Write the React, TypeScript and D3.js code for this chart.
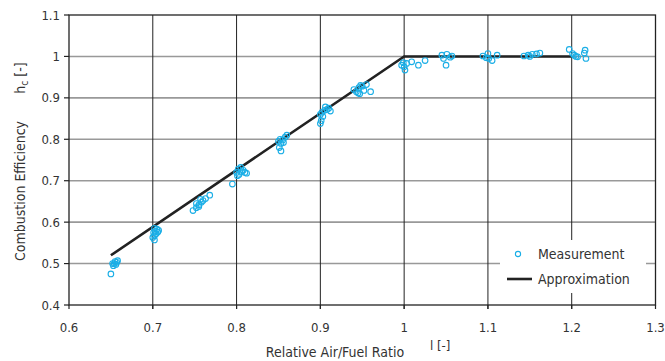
import React from 'react';
import * as d3 from 'd3';

// measured points [lambda, efficiency]
const measX = [
  0.652, 0.655, 0.656, 0.653, 0.657, 0.650, 0.654, 0.658,
  0.702, 0.705, 0.707, 0.703, 0.701, 0.704, 0.702, 0.700, 0.702, 0.706,
  0.748, 0.752, 0.755, 0.758, 0.752, 0.760, 0.763, 0.768, 0.755, 0.757,
  0.795,
  0.800, 0.802, 0.805, 0.808, 0.810, 0.803, 0.806, 0.812, 0.801,
  0.850, 0.852, 0.855, 0.858, 0.860, 0.853, 0.851, 0.853, 0.856,
  0.900, 0.902, 0.905, 0.908, 0.910, 0.903, 0.901, 0.900, 0.912, 0.906,
  0.940, 0.943, 0.946, 0.948, 0.950, 0.952, 0.955, 0.947, 0.960, 0.945,
  0.997, 1.001, 1.009, 1.017, 1.025, 1.003, 1.000, 0.999,
  1.045, 1.051, 1.057, 1.047, 1.050, 1.055,
  1.094, 1.100, 1.098, 1.105, 1.111, 1.101,
  1.143, 1.148, 1.153, 1.158, 1.162, 1.150,
  1.197, 1.201, 1.203, 1.207, 1.216, 1.215, 1.217, 1.205,
];
const measY = [
  0.500, 0.505, 0.498, 0.495, 0.503, 0.475, 0.500, 0.507,
  0.585, 0.583, 0.580, 0.578, 0.575, 0.572, 0.567, 0.563, 0.557, 0.576,
  0.628, 0.635, 0.642, 0.648, 0.645, 0.652, 0.657, 0.665, 0.638, 0.655,
  0.692,
  0.720, 0.728, 0.732, 0.725, 0.720, 0.715, 0.722, 0.718, 0.712,
  0.795, 0.800, 0.798, 0.805, 0.810, 0.790, 0.780, 0.772, 0.792,
  0.860, 0.865, 0.870, 0.872, 0.875, 0.855, 0.845, 0.838, 0.868, 0.878,
  0.920, 0.915, 0.925, 0.930, 0.928, 0.918, 0.932, 0.910, 0.915, 0.912,
  0.979, 0.967, 0.987, 0.979, 0.990, 0.983, 0.975, 0.985,
  1.003, 1.005, 1.001, 0.995, 0.979, 0.998,
  1.001, 1.007, 0.997, 0.990, 1.003, 0.995,
  1.001, 1.003, 1.005, 1.006, 1.008, 1.000,
  1.017, 1.007, 1.003, 0.999, 1.015, 1.008, 0.995, 1.000,
];

// approximation polyline
const approxX = [0.65, 1.0, 1.2];
const approxY = [0.52, 1.0, 1.0];

const xTicks = [0.6, 0.7, 0.8, 0.9, 1, 1.1, 1.2, 1.3];
const yTicks = [0.4, 0.5, 0.6, 0.7, 0.8, 0.9, 1, 1.1];

const W = 665;
const H = 361;
const font = "'Liberation Sans Narrow', 'DejaVu Sans Condensed', sans-serif";
const blue = '#1aaee6';

export default function App() {
  const x = d3.scaleLinear().domain([0.6, 1.3]).range([69, 655.5]);
  const y = d3.scaleLinear().domain([0.4, 1.1]).range([305, 15]);

  const pts = measX.map((v, i) => [v, measY[i]] as [number, number]);
  const line = d3.line<[number, number]>().x(d => x(d[0])).y(d => y(d[1]));
  const approx = approxX.map((v, i) => [v, approxY[i]] as [number, number]);

  return (
    <svg width={W} height={H} style={{ position: 'absolute', left: 0, top: 0, background: '#fff' }}
      fontFamily={font}>
      {/* horizontal grid */}
      {yTicks.filter(t => t > 0.4 && t < 1.1).map(t => (
        <line key={'h' + t} x1={x(0.6)} x2={x(1.3)} y1={y(t)} y2={y(t)} stroke="#999" strokeWidth={1.6} />
      ))}
      {/* vertical grid */}
      {xTicks.filter(t => t > 0.6 && t < 1.3).map(t => (
        <line key={'v' + t} x1={x(t)} x2={x(t)} y1={y(1.1)} y2={y(0.4) + 4} stroke="#222" strokeWidth={1} />
      ))}
      {/* frame */}
      <rect x={x(0.6)} y={y(1.1)} width={x(1.3) - x(0.6)} height={y(0.4) - y(1.1)} fill="none" stroke="#222" strokeWidth={1.3} />
      {/* ticks */}
      {yTicks.map(t => (
        <line key={'yt' + t} x1={x(0.6) - 5} x2={x(0.6)} y1={y(t)} y2={y(t)} stroke="#222" strokeWidth={1.2} />
      ))}
      {xTicks.map(t => (
        <line key={'xt' + t} x1={x(t)} x2={x(t)} y1={y(0.4)} y2={y(0.4) + 4} stroke="#222" strokeWidth={1.2} />
      ))}
      {/* tick labels */}
      {yTicks.map(t => (
        <text key={'yl' + t} x={x(0.6) - 9} y={y(t)} dy="0.35em" textAnchor="end" fontSize={13} fill="#333">{d3.format('')(t)}</text>
      ))}
      {xTicks.map(t => (
        <text key={'xl' + t} x={x(t)} y={y(0.4) + 22} dy="0.35em" textAnchor="middle" fontSize={13} fill="#333">{d3.format('')(t)}</text>
      ))}

      {/* approximation */}
      <path d={line(approx) || ''} fill="none" stroke="#222" strokeWidth={2.6} />

      {/* measurements */}
      {pts.map((p, i) => (
        <circle key={'p' + i} cx={x(p[0])} cy={y(p[1])} r={2.8} fill="none" stroke={blue} strokeWidth={1.1} />
      ))}

      {/* legend */}
      <rect x={500} y={240} width={146} height={53} fill="#fff" />
      <circle cx={518} cy={254} r={2.6} fill="none" stroke={blue} strokeWidth={1.1} />
      <text x={538} y={254} dy="0.35em" fontSize={14} fill="#333">Measurement</text>
      <line x1={507} x2={532} y1={279} y2={279} stroke="#222" strokeWidth={2.6} />
      <text x={538} y={279} dy="0.35em" fontSize={14} fill="#333">Approximation</text>

      {/* axis titles */}
      <text x={335} y={352} dy="0.35em" textAnchor="middle" fontSize={14} fill="#333">Relative Air/Fuel Ratio</text>
      <text x={430} y={345} dy="0.35em" fontSize={13} fill="#333">l [-]</text>
      <text transform="translate(20,191) rotate(-90)" dy="0.35em" textAnchor="middle" fontSize={14} fill="#333">Combustion Efficiency</text>
      <text transform="translate(20,78) rotate(-90)" dy="0.35em" textAnchor="middle" fontSize={14} fill="#333">
        h<tspan fontSize={10} dy="3">c</tspan><tspan dy="-3"> [-]</tspan>
      </text>
    </svg>
  );
}
